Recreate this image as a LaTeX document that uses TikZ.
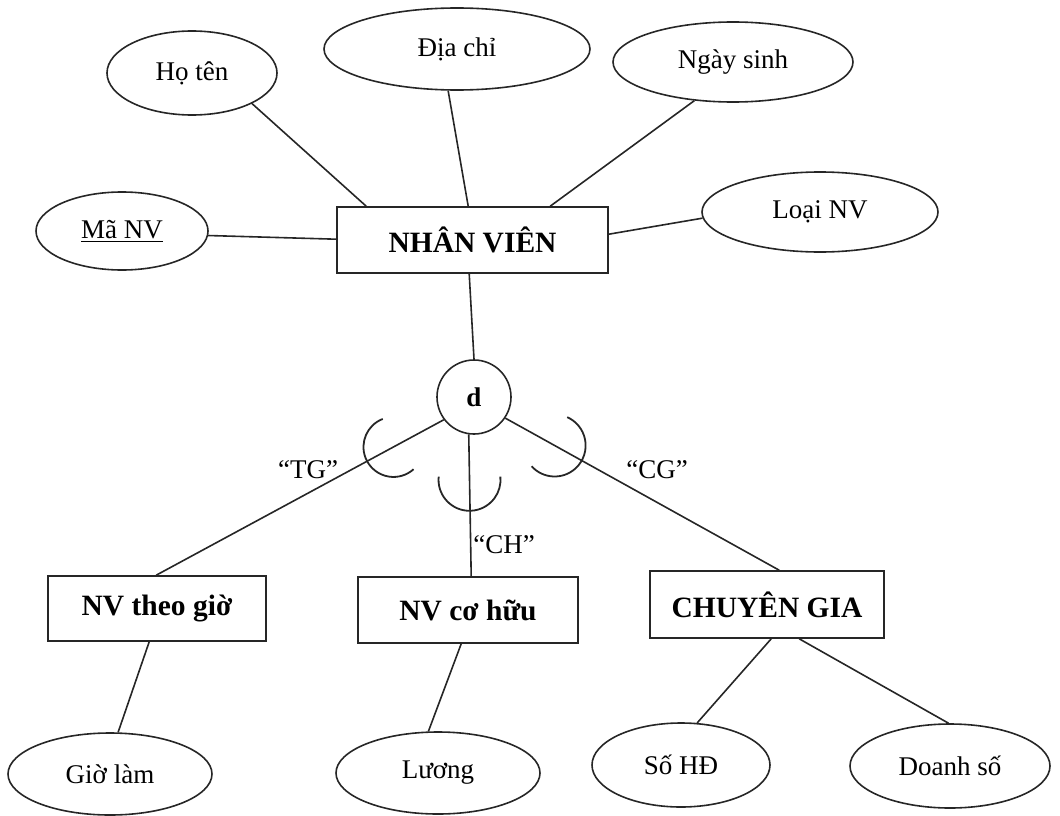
\documentclass[tikz,border=0pt]{standalone}
\usepackage{fontspec}
\setmainfont{Liberation Serif}
\usetikzlibrary{shapes.geometric}
\tikzset{
  base/.style={line width=1.6pt, draw=black!85},
  attr/.style={base, ellipse, inner sep=0pt, font=\fontsize{27}{30}\selectfont},
  entity/.style={base, rectangle, inner sep=0pt, font=\bfseries\fontsize{29.5}{32}\selectfont},
  disj/.style={base, circle, inner sep=0pt, minimum size=74pt, font=\bfseries\fontsize{27}{30}\selectfont},
  link/.style={line width=1.6pt, draw=black!85},
  subset/.style={line width=1.8pt, draw=black!85},
  lbl/.style={font=\fontsize{27}{30}\selectfont, inner sep=0pt}
}
\begin{document}
\begin{tikzpicture}[x=1pt,y=1pt]
\useasboundingbox (0,0) rectangle (1060,-816);

% superclass and its attributes
\node[entity, minimum width=271pt, minimum height=66pt] (nv) at (472.5,-240) {NHÂN VIÊN};
\node[attr, minimum width=170pt, minimum height=84pt] (hoten) at (192,-73) {Họ tên};
\node[attr, minimum width=266pt, minimum height=82pt] (diachi) at (457,-49) {Địa chỉ};
\node[attr, minimum width=240pt, minimum height=80pt] (ngaysinh) at (733,-62) {Ngày sinh};
\node[attr, minimum width=236pt, minimum height=80pt] (loainv) at (820,-212) {Loại NV};
\node[attr, minimum width=172pt, minimum height=78pt] (manv) at (122,-231) {\underline{Mã NV}};

% disjoint specialization circle
\node[disj] (d) at (474,-397) {d};

% subclasses
\node[entity, minimum width=218pt, minimum height=65pt] (tg) at (157,-608.5) {NV theo giờ};
\node[entity, minimum width=220pt, minimum height=66pt] (ch) at (468,-610) {NV cơ hữu};
\node[entity, minimum width=234pt, minimum height=67pt] (cg) at (767,-604.5) {CHUYÊN GIA};

% subclass attributes
\node[attr, minimum width=204pt, minimum height=82pt] (giolam) at (110,-774) {Giờ làm};
\node[attr, minimum width=204pt, minimum height=82pt] (luong) at (438,-773) {Lương};
\node[attr, minimum width=178pt, minimum height=84pt] (sohd) at (681,-765) {Số HĐ};
\node[attr, minimum width=200pt, minimum height=84pt] (doanhso) at (950,-766) {Doanh số};

% attribute links of NHÂN VIÊN
\draw[link] (hoten.-27) -- ([xshift=30pt]nv.north west);
\draw[link] (diachi.-102) -- ([xshift=132pt]nv.north west);
\draw[link] (ngaysinh.-135) -- ([xshift=214pt]nv.north west);
\draw[link] (loainv.183) -- ([yshift=-28pt]nv.north east);
\draw[link] (manv.-3) -- ([yshift=-33pt]nv.north west);

% specialization links
\draw[link] ([xshift=133pt]nv.south west) -- (d.north);
\draw[link] (d.217) -- ([xshift=109pt]tg.north west) coordinate[pos=0.175] (tgc);
\draw[link] (d.-98) -- ([xshift=114pt]ch.north west) coordinate[pos=0.32] (chc);
\draw[link] (d.-34) -- ([xshift=130pt]cg.north west) coordinate[pos=0.18] (cgc);

% subset marks on the specialization links
\draw[subset] (tgc) ++(111:30) arc[start angle=111, end angle=312, radius=30];
\draw[subset] (chc) ++(174:31) arc[start angle=174, end angle=366, radius=31];
\draw[subset] (cgc) ++(222:31) arc[start angle=222, end angle=426, radius=31];

% defining predicates
\node[lbl] (ltg) at (308,-470) {“TG”};
\node[lbl] (lch) at (504,-545) {“CH”};
\node[lbl] (lcg) at (657,-470) {“CG”};

% subclass attribute links
\draw[link] ([xshift=102pt]tg.south west) -- (giolam.79);
\draw[link] ([xshift=104pt]ch.south west) -- (luong.103);
\draw[link] ([xshift=122pt]cg.south west) -- (sohd.69);
\draw[link] ([xshift=150pt]cg.south west) -- (doanhso.92);
\end{tikzpicture}
\end{document}
